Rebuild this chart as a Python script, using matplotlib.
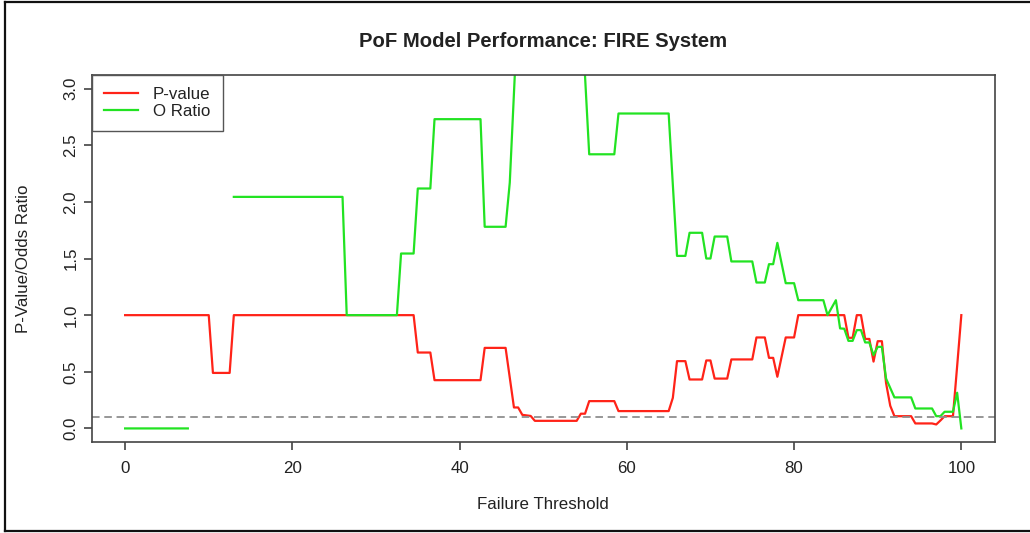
import numpy as np
import matplotlib
matplotlib.use("Agg")
import matplotlib.pyplot as plt
from matplotlib.lines import Line2D

plt.rcParams["font.family"] = ["Liberation Sans", "DejaVu Sans"]

# failure threshold (%) at which each curve changes slope
pval_x = [0, 10, 10.5, 12.5, 13, 34.5, 35, 36.5, 37, 42.5, 43, 45.5, 46.5, 47,
          47.5, 48.5, 49, 54, 54.5, 55, 55.5, 58.5, 59, 65, 65.5, 66, 67, 67.5,
          69, 69.5, 70, 70.5, 72, 72.5, 75, 75.5, 76.5, 77, 77.5, 78, 79, 80,
          80.5, 86, 86.5, 87, 87.5, 88, 88.5, 89, 89.5, 90, 90.5, 91, 91.5, 92,
          94, 94.5, 96.5, 97, 97.5, 98, 99, 99.5, 100]
pval_y = [1.0, 1.0, 0.49, 0.49, 1.0, 1.0, 0.67, 0.67, 0.426, 0.426, 0.711, 0.711,
          0.185, 0.185, 0.12, 0.11, 0.067, 0.067, 0.13, 0.13, 0.241, 0.241,
          0.153, 0.153, 0.27, 0.594, 0.594, 0.432, 0.432, 0.60, 0.60, 0.44, 0.44,
          0.609, 0.609, 0.803, 0.803, 0.623, 0.623, 0.456, 0.803, 0.803, 1.0,
          1.0, 0.80, 0.80, 1.0, 1.0, 0.79, 0.79, 0.59, 0.77, 0.77, 0.40, 0.20,
          0.108, 0.108, 0.044, 0.044, 0.035, 0.07, 0.108, 0.108, 0.55, 1.0]

# odds ratio; NaN where the ratio is undefined
oratio_x = [0, 7.5, 10, 13, 26, 26.5, 32.5, 33, 34.5, 35, 36.5, 37, 42.5, 43,
            45.5, 46, 47, 54.5, 55.5, 58.5, 59, 65, 66, 67, 67.5, 69, 69.5, 70,
            70.5, 72, 72.5, 75, 75.5, 76.5, 77, 77.5, 78, 79, 80, 80.5, 83.5, 84,
            85, 85.5, 86, 86.5, 87, 87.5, 88, 88.5, 89, 89.5, 90, 90.5, 91, 92,
            94, 94.5, 96.5, 97, 97.5, 98, 99, 99.5, 100]
oratio_y = [0.0, 0.0, np.nan, 2.044, 2.044, 1.0, 1.0, 1.544, 1.544, 2.118, 2.118,
            2.73, 2.73, 1.78, 1.78, 2.17, 3.75, 3.8, 2.42, 2.42, 2.78, 2.78,
            1.523, 1.523, 1.727, 1.727, 1.50, 1.50, 1.694, 1.694, 1.474, 1.474,
            1.288, 1.288, 1.45, 1.45, 1.638, 1.282, 1.282, 1.132, 1.132, 1.0,
            1.132, 0.883, 0.88, 0.773, 0.773, 0.868, 0.868, 0.759, 0.759, 0.647,
            0.72, 0.72, 0.44, 0.274, 0.274, 0.176, 0.176, 0.108, 0.108, 0.147,
            0.147, 0.315, 0.0]

cutoff = 0.1
y_ticks = [0.0, 0.5, 1.0, 1.5, 2.0, 2.5, 3.0]
x_ticks = [0, 20, 40, 60, 80, 100]

fig = plt.figure(figsize=(10.3, 5.33), dpi=100)
ax = fig.add_axes([0.089, 0.1707, 0.8768, 0.6886])

ax.plot(pval_x, pval_y, color="#ff2318", lw=1.6, label="P-value")
ax.plot(oratio_x, oratio_y, color="#22e322", lw=1.6, label="O Ratio")
ax.axhline(cutoff, color="#8f8f8f", lw=1.3, ls=(0, (4.2, 2.6)))

# R-style 4% padding around the data range
ax.set_xlim(-4, 104)
ax.set_ylim(-0.12, 3.12)
ax.set_xticks(x_ticks)
ax.set_yticks(y_ticks)
ax.set_yticklabels([f"{v:.1f}" for v in y_ticks], rotation=90, va="center")
ax.tick_params(axis="both", direction="out", length=5.5, width=1.1,
               color="#333333", labelsize=12.2, labelcolor="#222222")
ax.tick_params(axis="x", pad=8)
ax.tick_params(axis="y", pad=4)
for sp in ax.spines.values():
    sp.set_color("#444444")
    sp.set_linewidth(1.2)

ax.set_title("PoF Model Performance: FIRE System", fontsize=14.6,
             fontweight="bold", color="#222222", y=1.076, pad=0)
ax.set_xlabel("Failure Threshold", fontsize=12.2, color="#222222")
ax.xaxis.set_label_coords(0.5, -0.15)
ax.set_ylabel("P-Value/Odds Ratio", fontsize=12.2, color="#222222")
ax.yaxis.set_label_coords(-0.067, 0.5)

leg = ax.legend(loc="upper left", bbox_to_anchor=(0, 1), borderaxespad=0,
                fancybox=False, framealpha=1, edgecolor="#555555",
                fontsize=12.2, handlelength=2.0, handletextpad=0.9,
                labelspacing=0.12, borderpad=0.72)
leg.get_frame().set_linewidth(1.0)
for t in leg.get_texts():
    t.set_color("#222222")

# outer frame around the figure
for xs, ys in [([0.005, 0.005], [0.004, 0.996]),
               ([0.005, 1.0], [0.996, 0.996]),
               ([0.005, 1.0], [0.004, 0.004])]:
    fig.add_artist(Line2D(xs, ys, transform=fig.transFigure,
                          color="#111111", lw=1.6))

fig.savefig("out.png", dpi=100, facecolor="white")
